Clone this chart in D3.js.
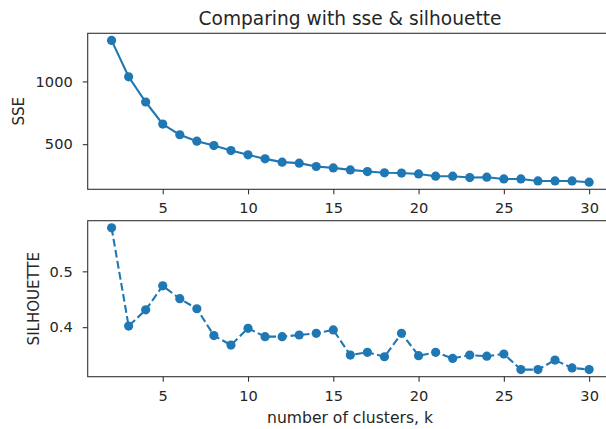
<!DOCTYPE html>
<html>
<head>
<meta charset="utf-8">
<script src="https://cdn.jsdelivr.net/npm/d3@7"></script>
<style>
  body { margin: 0; background: #fff; }
  svg { display: block; }
  text { font-family: "DejaVu Sans", sans-serif; fill: #262626; }
</style>
</head>
<body>
<svg id="canvas" width="606" height="429"></svg>
<script>
// number of clusters on the x axis
let kValues = [2, 3, 4, 5, 6, 7, 8, 9, 10, 11, 12, 13, 14, 15, 16, 17, 18, 19, 20, 21, 22, 23, 24, 25, 26, 27, 28, 29, 30]
let sseValues = [1327, 1037, 836, 660, 575, 524, 489, 449, 415, 383, 357, 349, 322, 311, 295, 282, 272, 270, 263, 245, 245, 234, 237, 223, 223, 207, 207, 207, 197]
let silValues = [0.578, 0.402, 0.431, 0.474, 0.451, 0.433, 0.385, 0.368, 0.398, 0.383, 0.383, 0.386, 0.389, 0.395, 0.350, 0.355, 0.347, 0.389, 0.349, 0.355, 0.344, 0.350, 0.348, 0.352, 0.324, 0.324, 0.341, 0.327, 0.324]

let xTicks = [5, 10, 15, 20, 25, 30]
let sseTicks = [500, 1000]
let silTicks = [0.4, 0.5]

let canvas = d3.select('#canvas')
let blue = '#1f77b4'

// matplotlib style 5% margins around the data
let padded = (vals) => {
  let ext = d3.extent(vals)
  let m = (ext[1] - ext[0]) * 0.05
  return [ext[0] - m, ext[1] + m]
}

let left = 87.7, right = 613

let x = d3.scaleLinear().domain(padded(kValues)).range([left, right])

let drawPanel = (vals, yTicks, top, bottom, dashed, fmt) => {
  let y = d3.scaleLinear().domain(padded(vals)).range([bottom, top])
  let g = canvas.append('g')

  let xAxis = g.append('g')
    .attr('transform', 'translate(0,' + bottom + ')')
    .call(d3.axisBottom(x).tickValues(xTicks).tickSize(5).tickPadding(8.5))
  let yAxis = g.append('g')
    .attr('transform', 'translate(' + left + ',0)')
    .call(d3.axisLeft(y).tickValues(yTicks).tickSize(5).tickPadding(10).tickFormat(fmt))

  for (let ax of [xAxis, yAxis]) {
    ax.select('.domain').remove()
    ax.selectAll('line').attr('stroke', '#333').attr('stroke-width', 1.1)
    ax.selectAll('text').attr('font-size', '14.6px').attr('fill', '#262626')
      .style('font-family', '"DejaVu Sans", sans-serif')
  }

  let pts = kValues.map((k, i) => [k, vals[i]])

  g.append('path')
    .datum(pts)
    .attr('fill', 'none')
    .attr('stroke', blue)
    .attr('stroke-width', 2.1)
    .attr('stroke-dasharray', dashed ? '7.8,3.4' : null)
    .attr('d', d3.line().x(d => x(d[0])).y(d => y(d[1])))

  g.selectAll('circle')
    .data(pts)
    .enter()
    .append('circle')
    .attr('cx', d => x(d[0]))
    .attr('cy', d => y(d[1]))
    .attr('r', 4.6)
    .attr('fill', blue)

  // axes frame
  g.append('rect')
    .attr('x', left)
    .attr('y', top)
    .attr('width', right - left)
    .attr('height', bottom - top)
    .attr('fill', 'none')
    .attr('stroke', '#333')
    .attr('stroke-width', 1.1)
}

drawPanel(sseValues, sseTicks, 33.3, 189.3, false, d3.format('d'))
drawPanel(silValues, silTicks, 220.7, 376.7, true, d3.format('.1f'))

canvas.append('text')
  .attr('x', 350)
  .attr('y', 25)
  .attr('text-anchor', 'middle')
  .attr('font-size', '18.6px')
  .text('Comparing with sse & silhouette')

canvas.append('text')
  .attr('transform', 'translate(24,111.3) rotate(-90)')
  .attr('text-anchor', 'middle')
  .attr('font-size', '15px')
  .text('SSE')

canvas.append('text')
  .attr('transform', 'translate(39.3,298.7) rotate(-90)')
  .attr('text-anchor', 'middle')
  .attr('font-size', '15px')
  .text('SILHOUETTE')

canvas.append('text')
  .attr('x', 350)
  .attr('y', 423)
  .attr('text-anchor', 'middle')
  .attr('font-size', '15.6px')
  .text('number of clusters, k')
</script>
</body>
</html>
